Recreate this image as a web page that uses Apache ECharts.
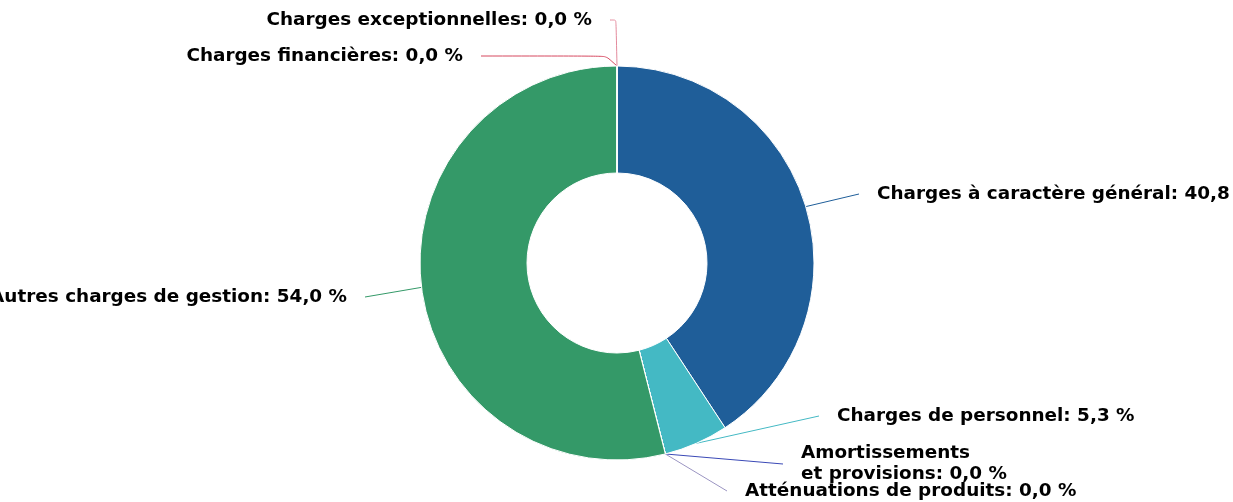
<!DOCTYPE html>
<html>
<head>
<meta charset="utf-8">
<script src="https://cdn.jsdelivr.net/npm/echarts@6/dist/echarts.min.js"></script>
<style>
html,body{margin:0;padding:0;background:#fff;}
#chart{width:1233px;height:502px;}
</style>
</head>
<body>
<div id="chart"></div>
<script>
// Data
const categories = [
  "Charges à caractère général",
  "Charges de personnel",
  "Amortissements\net provisions",
  "Atténuations de produits",
  "Autres charges de gestion",
  "Charges financières",
  "Charges exceptionnelles"
];
const values = [40.8, 5.3, 0.0, 0.0, 54.0, 0.0, 0.0];

// Styles (kept separate from data)
const sliceColors = ["#1f5e99", "#44b9c4", "#3a49b6", "#9b95c2", "#349968", "#d6485f", "#e38a9c"];
// label anchor positions [x, y, align]
const labelAnchors = [
  [859, 194, "left"],
  [819, 416, "left"],
  [783, 464, "left"],
  [727, 491, "left"],
  [365, 297, "right"],
  [481, 56, "right"],
  [610, 20, "right"]
];
const labelLineLen2 = [0, 0, 0, 0, 0, 125, 6];

const chart = echarts.init(document.getElementById('chart'), null, {renderer: 'canvas'});
const fmt = v => v.toFixed(1).replace('.', ',') + ' %';

chart.setOption({
  animation: false,
  series: [{
    type: 'pie',
    center: [617, 263],
    radius: [90, 197],
    startAngle: 90,
    clockwise: true,
    avoidLabelOverlap: false,
    minShowLabelAngle: 0,
    itemStyle: { borderColor: '#ffffff', borderWidth: 1 },
    label: {
      show: true,
      position: 'outside',
      formatter: p => p.name + ': ' + fmt(p.value),
      fontFamily: 'DejaVu Sans',
      fontWeight: 'bold',
      fontSize: 18.4,
      lineHeight: 21,
      color: '#000',
      backgroundColor: 'rgba(0,0,0,0)',
      padding: [0, 18, 0, 18]
    },
    labelLine: {
      show: true,
      length: 20,
      length2: 0,
      smooth: 0.2,
      lineStyle: { width: 1 }
    },
    labelLayout: function (params) {
      const a = labelAnchors[params.dataIndex];
      return { x: a[0], y: a[1], align: a[2], verticalAlign: 'middle' };
    },
    data: categories.map((c, i) => ({
      name: c,
      value: values[i],
      itemStyle: { color: sliceColors[i] },
      labelLine: { length2: labelLineLen2[i], lineStyle: { color: sliceColors[i] } }
    }))
  }]
});
</script>
</body>
</html>
